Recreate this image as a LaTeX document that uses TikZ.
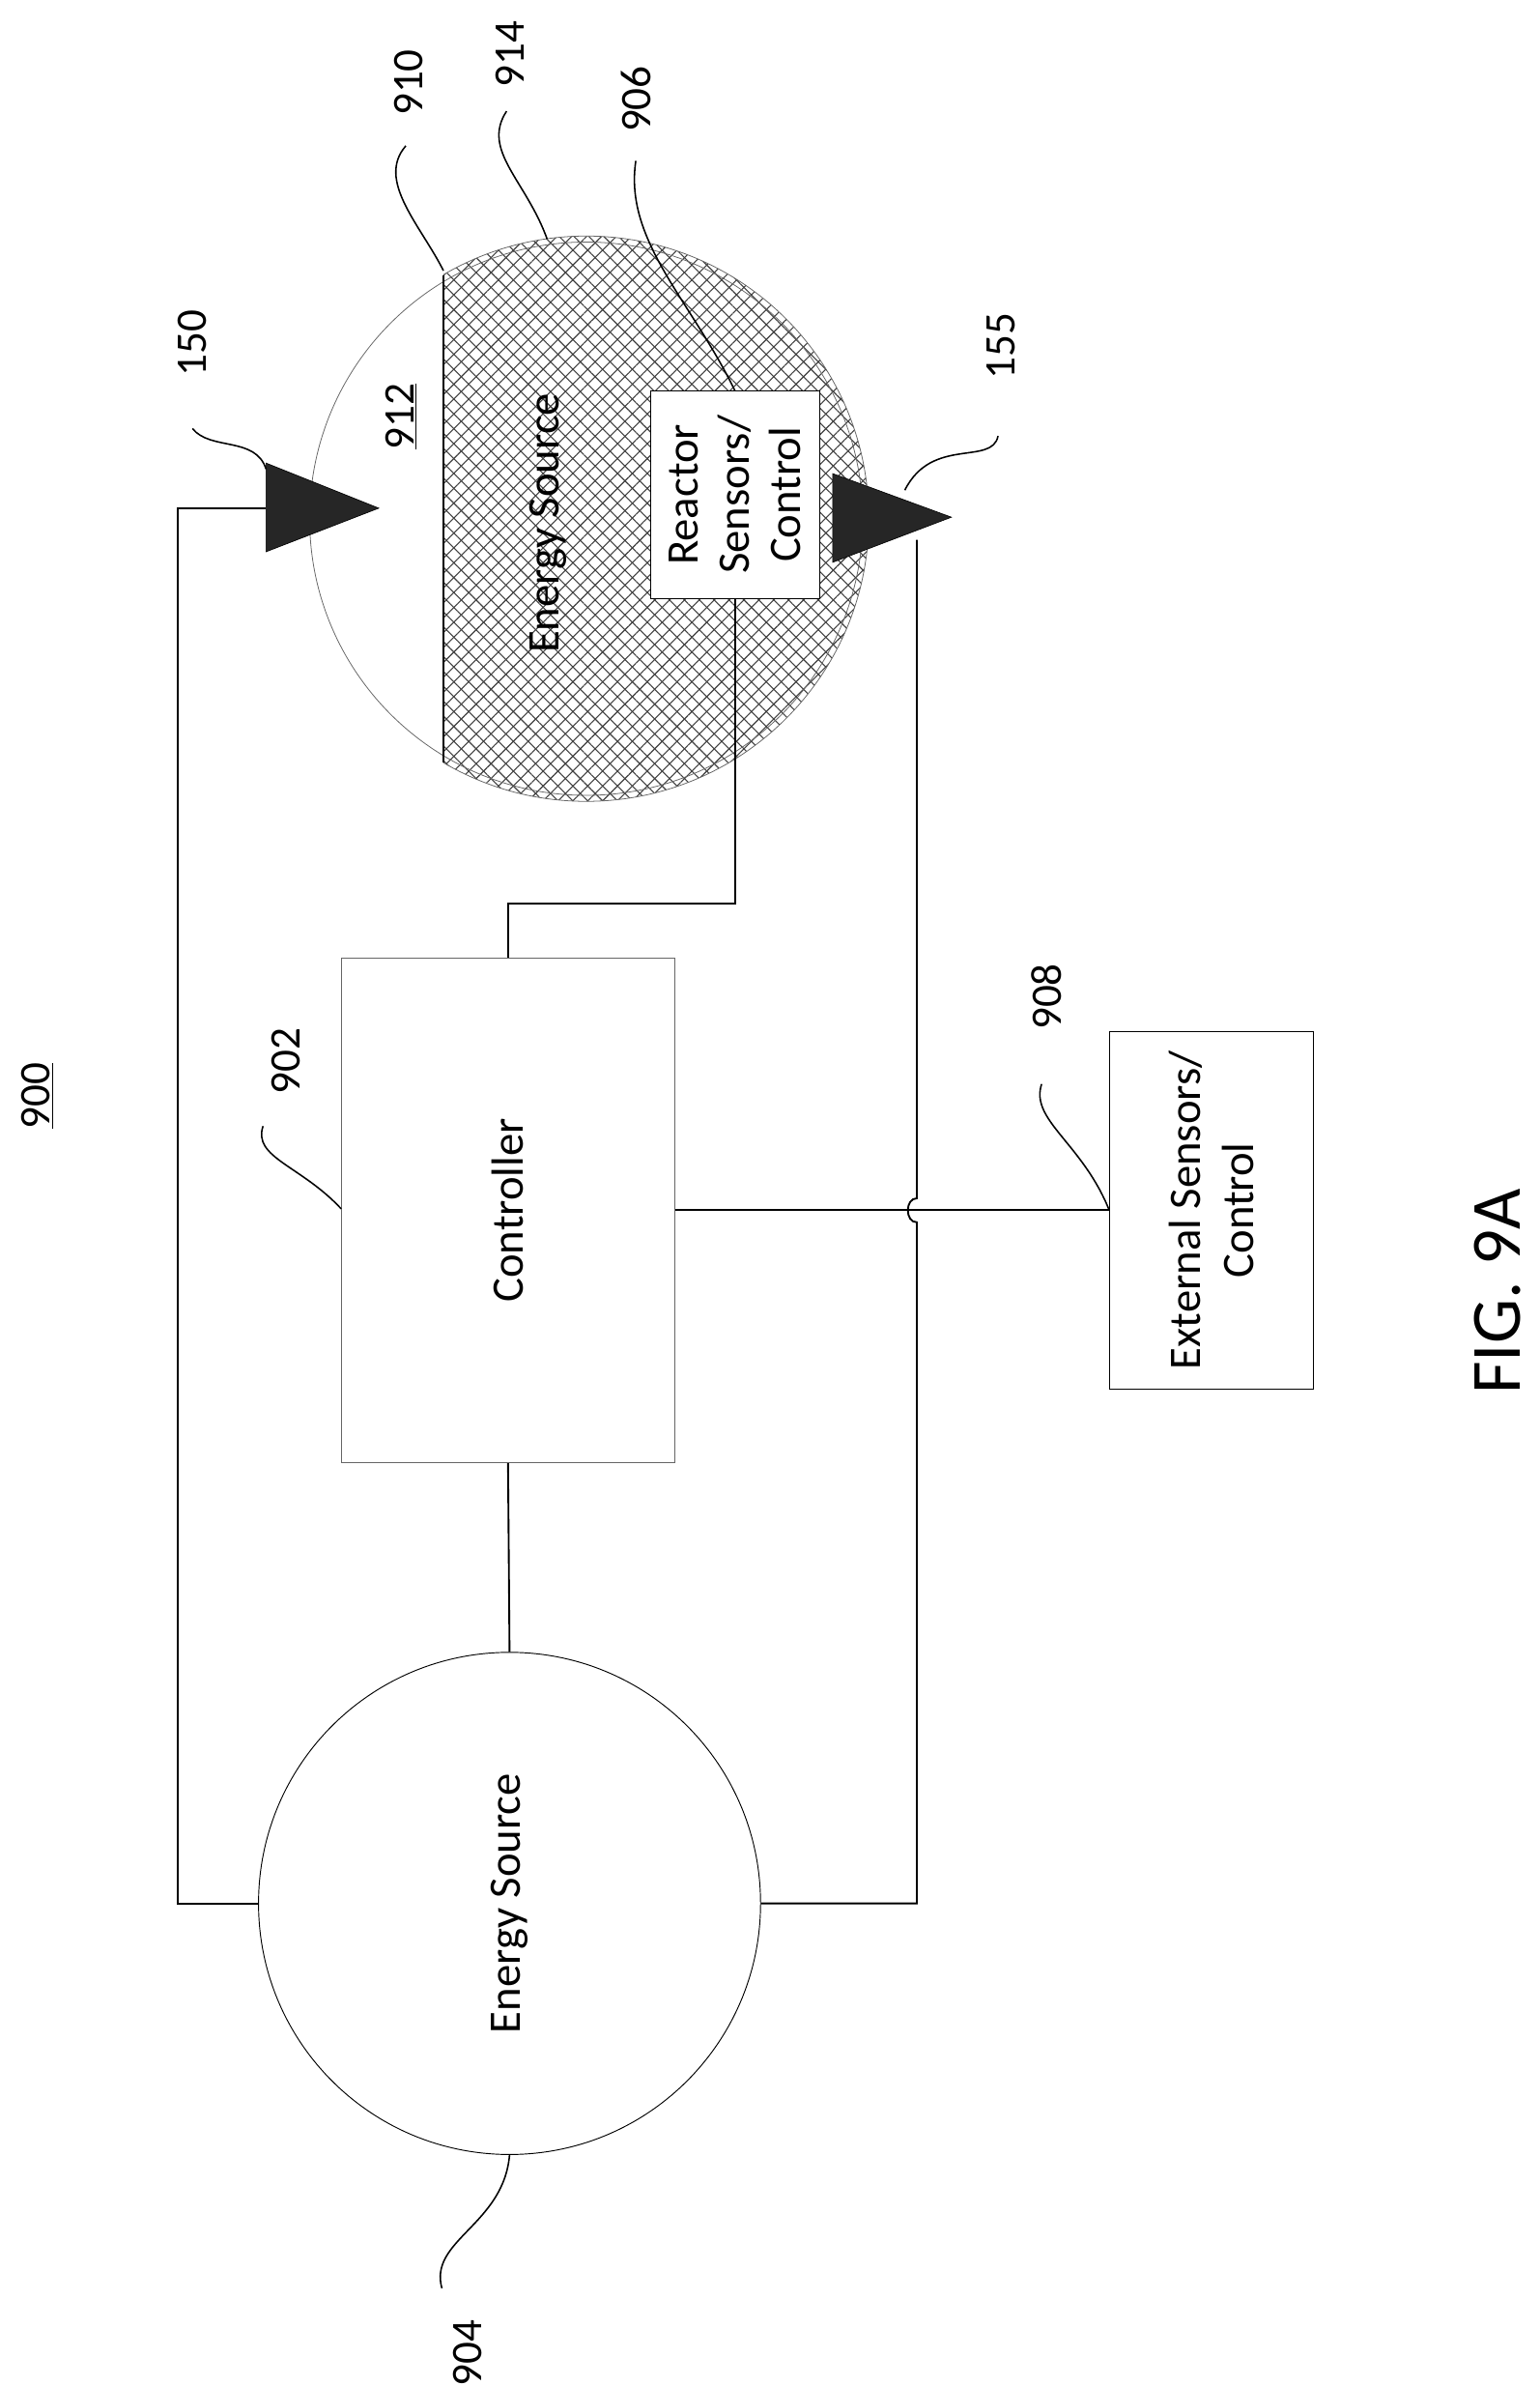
\documentclass[tikz,border=0pt]{standalone}
\usepackage{fontspec}
\setmainfont{Carlito}
\usetikzlibrary{patterns.meta}
\begin{document}
\begin{tikzpicture}[x=1pt,y=-1pt,
  wire/.style={line width=1.2pt},
  lead/.style={line width=1pt},
  lbl/.style={rotate=90,font=\fontsize{29}{33}\selectfont,inner sep=0pt},
  txt/.style={rotate=90,font=\fontsize{30}{35}\selectfont,align=center},
  tri/.style={fill=black!85,draw=black}]
\useasboundingbox (0,0) rectangle (1024,1587);
% reactor
\coordinate (rc) at (390,345);
\begin{scope}
  \clip (rc) circle (188);
  \fill[pattern={Lines[angle=45,distance=7pt,line width=0.7pt]},pattern color=black!75] (295,100) rectangle (620,560);
  \fill[pattern={Lines[angle=-45,distance=7pt,line width=0.7pt]},pattern color=black!75] (295,100) rectangle (620,560);
\end{scope}
\draw[black!60,line width=0.5pt] (rc) circle (184);
\begin{scope}\clip (295,100) rectangle (620,560);
\draw[black!60,line width=0.5pt] (rc) circle (188);\end{scope}
\coordinate (w1) at (295,183);
\coordinate (w2) at (295,507);
\draw[wire] (w1) -- (w2);
\node[lbl] (l912) at (267,277) {\underline{912}};
\node[txt] (es2) at (365,348) {Energy Source};
\node[draw,fill=white,minimum width=138pt,minimum height=112pt,rotate=90,font=\fontsize{30}{34}\selectfont,align=center] (rs) at (489,329) {Reactor\\Sensors/\\Control};
% big source
\node[draw,circle,minimum size=334pt,line width=0.6pt,inner sep=0pt] (es) at (339,1266) {};
\node[txt] at (es) {Energy Source};
\node[draw=black!60,line width=0.5pt,minimum width=336pt,minimum height=222pt,inner sep=0pt,rotate=90] (ctl) at (338,805) {};
\node[txt] at (ctl) {Controller};
\node[draw,line width=0.6pt,minimum width=238pt,minimum height=136pt,inner sep=0pt,rotate=90] (ext) at (806,805) {};
\node[txt] at (ext) {External Sensors/\\Control};
% triangles
\draw[tri] (177,308) coordinate (t1) -- (177,367) -- (252,338) -- cycle;
\draw[tri] (554,315) -- (554,374) -- (633,344) coordinate (t2tip) -- cycle;
% wires
\draw[wire] (es.west) -- (118,1266) -- (118,338) -- (177,338);
\draw[wire] (es.east) -- (610,1266) -- (610,813) .. controls (602,813) and (602,797) .. (610,797) -- (610,359);
\draw[wire] (ctl.west) -- (es.north);
\draw[wire] (489,398) -- (489,601) -- (338,601) -- (ctl.east);
\draw[wire] (449,805) -- (738,805);
% labels
\node[lbl] (l900) at (25,729) {\underline{900}};
\node[lbl] (l904) at (311,1565) {904};
\draw[lead] (es.south) .. controls (335,1480) and (285,1490) .. (294,1522);
\node[lbl] (l902) at (190,706) {902};
\draw[lead] (227,804) .. controls (200,775) and (168,770) .. (175,749);
\node[lbl] (l150) at (128,228) {150};
\draw[lead] (177,312) .. controls (170,290) and (140,300) .. (128,285);
\node[lbl] (l155) at (666,230) {155};
\draw[lead] (602,326) .. controls (620,290) and (660,310) .. (664,290);
\node[lbl] (l910) at (272,55) {910};
\draw[lead] (295,180) .. controls (280,150) and (250,120) .. (270,97);
\node[lbl] (l914) at (339,36) {914};
\draw[lead] (364,159) .. controls (350,120) and (320,100) .. (337,74);
\node[lbl] (l906) at (423,66) {906};
\draw[lead] (489,260) .. controls (460,200) and (415,160) .. (423,107);
\node[lbl] (l908) at (696,663) {908};
\draw[lead] (738,805) .. controls (720,760) and (685,745) .. (693,721);
\node[rotate=90,font=\fontsize{47}{52}\selectfont] (fig) at (996,859) {FIG. 9A};
\end{tikzpicture}
\end{document}
